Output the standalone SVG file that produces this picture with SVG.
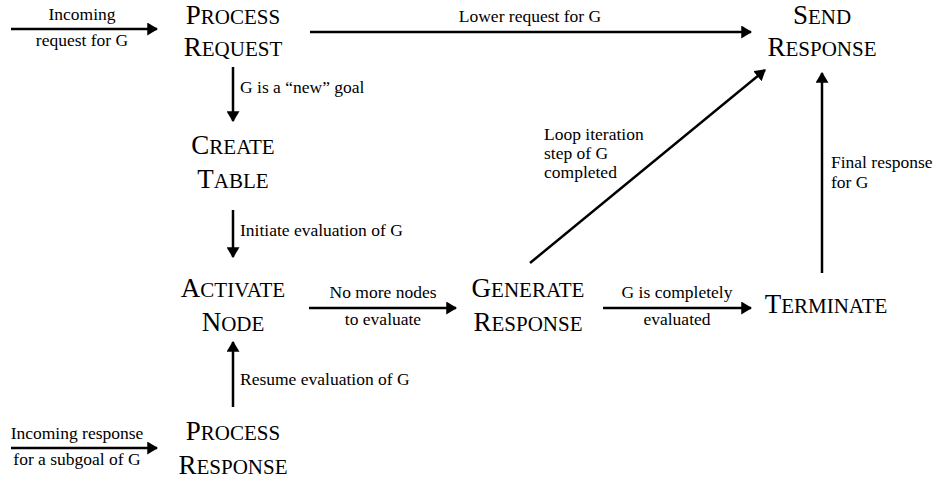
<svg xmlns="http://www.w3.org/2000/svg" width="933" height="482" viewBox="0 0 933 482">
<style>
.t{font-family:"Liberation Serif","Times New Roman",serif;fill:#000}
.n{font-size:27px;text-anchor:middle}
.s{font-size:21px}
.l{font-size:17.5px}
.c{text-anchor:middle}
.e{stroke:#000;stroke-width:2.5;fill:none;marker-end:url(#ah)}
</style>
<defs>
<marker id="ah" viewBox="0 0 10 12" refX="9" refY="6" markerWidth="4.4" markerHeight="5.2" markerUnits="strokeWidth" orient="auto">
<path d="M0,0 L10,6 L0,12 z" fill="#000"/>
</marker>
</defs>
<rect width="933" height="482" fill="#fff"/>
<g id="connectors">
<line class="e" x1="11" y1="29" x2="157" y2="29"/>
<line class="e" x1="310" y1="32" x2="751" y2="32"/>
<line class="e" x1="233" y1="67" x2="233" y2="121"/>
<line class="e" x1="233" y1="210" x2="233" y2="257"/>
<line class="e" x1="309" y1="308" x2="456" y2="308"/>
<line class="e" x1="603" y1="308" x2="751" y2="308"/>
<line class="e" x1="530" y1="263" x2="765" y2="70"/>
<line class="e" x1="822" y1="273" x2="822" y2="73"/>
<line class="e" x1="233" y1="407" x2="233" y2="342"/>
<line class="e" x1="11" y1="448" x2="157" y2="448"/>
<text class="t l c" x="82" y="20">Incoming</text>
<text class="t l c" x="82" y="46">request for G</text>
<text class="t l c" x="530" y="22">Lower request for G</text>
<text class="t l" x="240" y="93">G is a “new” goal</text>
<text class="t l" x="240" y="236">Initiate evaluation of G</text>
<text class="t l c" x="383" y="298">No more nodes</text>
<text class="t l c" x="383" y="325">to evaluate</text>
<text class="t l c" x="677" y="298">G is completely</text>
<text class="t l c" x="677" y="325">evaluated</text>
<text class="t l" x="544" y="140">Loop iteration</text>
<text class="t l" x="544" y="159">step of G</text>
<text class="t l" x="544" y="178">completed</text>
<text class="t l" x="831" y="168">Final response</text>
<text class="t l" x="831" y="188">for G</text>
<text class="t l" x="240" y="385">Resume evaluation of G</text>
<text class="t l c" x="77" y="439">Incoming response</text>
<text class="t l c" x="77" y="465">for a subgoal of G</text>
</g>
<g id="process-request">
<text class="t n" x="233" y="24">P<tspan class="s">ROCESS</tspan></text>
<text class="t n" x="233" y="56">R<tspan class="s">EQUEST</tspan></text>
</g>
<g id="send-response">
<text class="t n" x="822" y="24">S<tspan class="s">END</tspan></text>
<text class="t n" x="822" y="56">R<tspan class="s">ESPONSE</tspan></text>
</g>
<g id="create-table">
<text class="t n" x="233" y="154">C<tspan class="s">REATE</tspan></text>
<text class="t n" x="233" y="188">T<tspan class="s">ABLE</tspan></text>
</g>
<g id="activate-node">
<text class="t n" x="233" y="297">A<tspan class="s">CTIVATE</tspan></text>
<text class="t n" x="233" y="331">N<tspan class="s">ODE</tspan></text>
</g>
<g id="generate-response">
<text class="t n" x="528" y="297">G<tspan class="s">ENERATE</tspan></text>
<text class="t n" x="528" y="331">R<tspan class="s">ESPONSE</tspan></text>
</g>
<g id="terminate">
<text class="t n" x="826" y="313">T<tspan class="s">ERMINATE</tspan></text>
</g>
<g id="process-response">
<text class="t n" x="233" y="440">P<tspan class="s">ROCESS</tspan></text>
<text class="t n" x="233" y="474">R<tspan class="s">ESPONSE</tspan></text>
</g>
</svg>
